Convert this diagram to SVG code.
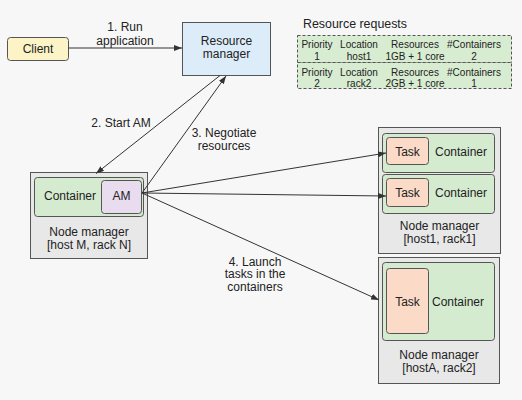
<svg xmlns="http://www.w3.org/2000/svg" width="522" height="400" viewBox="0 0 522 400">
<defs>
<marker id="arr" markerWidth="8" markerHeight="6" refX="8" refY="3" orient="auto" markerUnits="userSpaceOnUse">
<path d="M0,0 L8,3 L0,6 z" fill="#333"/>
</marker>
<style>
text{font-family:"Liberation Sans",Arial,sans-serif;fill:#222;}
.t{font-size:12px;text-anchor:middle;}
.s{font-size:10px;text-anchor:middle;}
.nm{fill:#e8e8e8;stroke:#555;stroke-width:1;}
.ct{fill:#d5ebcf;stroke:#555;stroke-width:1;}
.task{fill:#fbdac8;stroke:#555;stroke-width:1;}
.c{stroke:#333;stroke-width:1;fill:none;marker-end:url(#arr);}
</style>
</defs>
<rect width="522" height="400" fill="#f7f7f7"/>
<g id="client">
<rect x="7.5" y="37.5" width="61" height="23" rx="3" fill="#fcf4c6" stroke="#555"/>
<text class="t" x="38" y="53">Client</text>
</g>
<g id="resource-manager">
<rect x="182.5" y="22.5" width="88" height="53" fill="#dcecf9" stroke="#555"/>
<text class="t" x="226.5" y="44.5">Resource</text>
<text class="t" x="226.5" y="58">manager</text>
</g>
<g id="resource-requests">
<text x="303" y="28" style="font-size:12.4px">Resource requests</text>
<rect x="297.5" y="35.5" width="214" height="27" fill="#d8ecd2" stroke="#555" stroke-dasharray="3,2"/>
<rect x="297.5" y="62.5" width="214" height="26" fill="#d8ecd2" stroke="#555" stroke-dasharray="3,2"/>
<text class="s" x="317" y="48">Priority</text>
<text class="s" x="359" y="48">Location</text>
<text class="s" x="415" y="48">Resources</text>
<text class="s" x="474" y="48">#Containers</text>
<text class="s" x="317" y="59.5">1</text>
<text class="s" x="359" y="59.5">host1</text>
<text class="s" x="415" y="59.5">1GB + 1 core</text>
<text class="s" x="474" y="59.5">2</text>
<text class="s" x="317" y="75.5">Priority</text>
<text class="s" x="359" y="75.5">Location</text>
<text class="s" x="415" y="75.5">Resources</text>
<text class="s" x="474" y="75.5">#Containers</text>
<text class="s" x="317" y="87">2</text>
<text class="s" x="359" y="87">rack2</text>
<text class="s" x="415" y="87">2GB + 1 core</text>
<text class="s" x="474" y="87">1</text>
</g>
<g id="node-manager-m">
<rect class="nm" x="30.5" y="172.5" width="117" height="86"/>
<rect class="ct" x="34.5" y="177.5" width="109" height="39" rx="3"/>
<text class="t" x="70" y="200">Container</text>
<rect x="101.5" y="180.5" width="40" height="33" rx="3" fill="#e8dcee" stroke="#555"/>
<text class="t" x="121.5" y="200">AM</text>
<text class="t" x="89" y="236">Node manager</text>
<text class="t" x="89" y="249">[host M, rack N]</text>
</g>
<g id="node-manager-1">
<rect class="nm" x="378.5" y="127.5" width="122" height="126"/>
<rect class="ct" x="382.5" y="133.5" width="112" height="39" rx="3"/>
<rect class="task" x="386.5" y="137.5" width="42" height="27" rx="3"/>
<text class="t" x="407.5" y="156">Task</text>
<text class="t" x="461" y="156">Container</text>
<rect class="ct" x="382.5" y="174.5" width="112" height="39" rx="3"/>
<rect class="task" x="386.5" y="178.5" width="42" height="28" rx="3"/>
<text class="t" x="407.5" y="197">Task</text>
<text class="t" x="461" y="197">Container</text>
<text class="t" x="439.5" y="229.5">Node manager</text>
<text class="t" x="439.5" y="242.5">[host1, rack1]</text>
</g>
<g id="node-manager-2">
<rect class="nm" x="378.5" y="257.5" width="121" height="126"/>
<rect class="ct" x="382.5" y="262.5" width="112" height="78" rx="3"/>
<rect class="task" x="386.5" y="268.5" width="42" height="65" rx="3"/>
<text class="t" x="407.5" y="306">Task</text>
<text class="t" x="458" y="306">Container</text>
<text class="t" x="439" y="358.5">Node manager</text>
<text class="t" x="439" y="371.5">[hostA, rack2]</text>
</g>
<g id="connectors">
<line class="c" x1="68.5" y1="48" x2="182" y2="48"/>
<line class="c" x1="220" y1="75.5" x2="96" y2="173.5"/>
<line class="c" x1="142" y1="193" x2="226" y2="76"/>
<line class="c" x1="142" y1="193" x2="386" y2="153"/>
<line class="c" x1="142" y1="193" x2="386" y2="196"/>
<line class="c" x1="142" y1="193" x2="379" y2="300"/>
</g>
<g id="labels">
<text class="t" x="125" y="30.5">1. Run</text>
<text class="t" x="125" y="44.5">application</text>
<text class="t" x="121" y="127">2. Start AM</text>
<text class="t" x="224" y="136.5">3. Negotiate</text>
<text class="t" x="224" y="149.5">resources</text>
<text class="t" x="255" y="265.5">4. Launch</text>
<text class="t" x="255" y="278">tasks in the</text>
<text class="t" x="255" y="291">containers</text>
</g>
</svg>
